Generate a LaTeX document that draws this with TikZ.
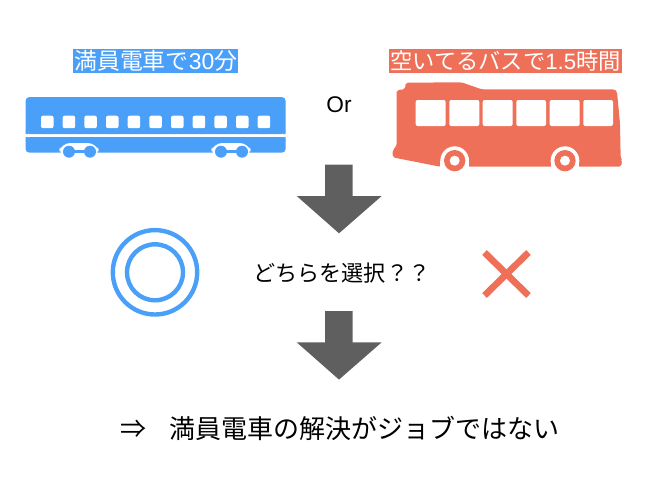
\documentclass[tikz,border=0pt]{standalone}
\usepackage{fontspec}
\setmainfont{Liberation Sans}
\newfontfamily\cjk{Noto Sans CJK JP}
\definecolor{trainblue}{HTML}{4A9FF9}
\definecolor{busred}{HTML}{EE7058}
\definecolor{arrowgray}{HTML}{5F5F5F}
\tikzset{
  tag/.style={inner sep=0pt,text=white,anchor=center},
  plain/.style={inner sep=0pt,text=black,anchor=west},
  window/.style={fill=white,rounded corners=1.5pt},
  blockarrow/.style={fill=arrowgray,draw=none},
}
\begin{document}
\begin{tikzpicture}[x=0.75pt,y=-0.75pt]
\useasboundingbox (0,0) rectangle (650,500);
% labels
\node[tag,font=\fontsize{17.2}{18}\selectfont,fill=trainblue,minimum width=123.8pt,minimum height=18.5pt] (trainlabel) at (155.7,61) {\cjk 満員電車で{\rmfamily 30}分};
\node[tag,font=\fontsize{16.7}{18}\selectfont,fill=busred,minimum width=174.7pt,minimum height=18.5pt] (buslabel) at (505.5,61) {\cjk 空いてるバスで{\rmfamily 1.5}時間};
\node[inner sep=0pt,font=\fontsize{17}{18}\selectfont] (or) at (339,105) {Or};
% train
\fill[trainblue,rounded corners=3pt] (25.5,134) -- (25.5,97) -- (285.7,97) -- (285.7,134) -- cycle;
\fill[trainblue,rounded corners=3pt] (25.5,137) -- (25.5,152.7) -- (285.7,152.7) -- (285.7,137) -- cycle;
\fill[trainblue] (25.5,134) rectangle (28,130) (283,134) rectangle (285.7,130) (25.5,137) rectangle (28,141) (283,137) rectangle (285.7,141);
\foreach \i in {0,...,10}
  \fill[window] ({41+21.67*\i},115.7) rectangle ++(12.5,12.5);
\foreach \a in {58,210}{
  \fill[white,rounded corners=7pt] (\a,156) -- (\a+3,143) -- (\a+39,143) -- (\a+42,156) -- cycle;
  \fill[trainblue] (\a+11,151.7) circle (6) (\a+32,151.7) circle (6);
  \fill[trainblue] (\a+11,150.2) rectangle (\a+32,153.2);
}
% bus
\begin{scope}[shift={(380,40)},scale=1/3]
\fill[busred,rounded corners=1.5pt] (50,318) -- (50,150) -- (75,148) -- (77,128) -- (245,127) -- (305,148) -- (705,148) -- (711,155) -- (720,250) -- (722,355) -- (726,360) -- (724,380) -- (180,380) -- (38,352) -- (38,330) -- cycle;
\foreach \a/\b in {107/197,208/298,308/398,409/498,509/599,610/699}
  \fill[window] (\a,180) rectangle (\b,258);
\foreach \c in {224,555}{
  \fill[white] (\c,362) circle (43);
  \fill[white] (\c-43,362) rectangle (\c+43,390);
  \fill[busred] (\c,362) circle (32);
  \fill[white] (\c,362) circle (15);
}
\end{scope}
% arrows
\foreach \d in {0,146.3}
  \fill[blockarrow] (325,164.7+\d) -- (352.7,164.7+\d) -- (352.7,196+\d) -- (381.7,196+\d) -- (339,233.3+\d) -- (296.7,196+\d) -- (325,196+\d) -- cycle;
% double circle
\draw[trainblue,line width=3.3pt] (155,272.3) circle (42.2);
\draw[trainblue,line width=3.3pt] (155,272.3) circle (28);
\node[plain,font=\fontsize{16.6}{18}\selectfont] (question) at (253,273) {\cjk どちらを選択？？};
% cross
\draw[busred,line width=5pt] (484.5,252.5) -- (528.5,295.5);
\draw[busred,line width=5pt] (528.5,252.5) -- (484.5,295.5);
% conclusion
\node[plain,font=\fontsize{19.5}{22}\selectfont] (conclusion) at (120,428) {\cjk ⇒\hspace{17.5pt}満員電車の解決がジョブではない};
\end{tikzpicture}
\end{document}
